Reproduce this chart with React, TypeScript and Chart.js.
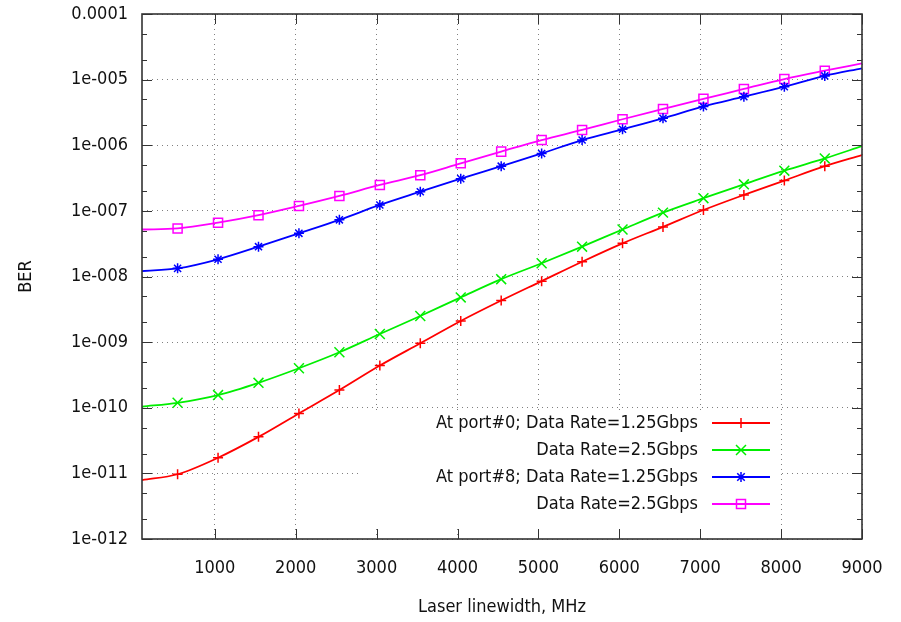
import React, { useEffect, useRef } from 'react';
import { Chart, registerables } from 'chart.js';

Chart.register(...registerables);

// Laser linewidth (MHz): curve ends at the axis limits, markers in between
const linewidthMHz = [100, 540, 1040, 1540, 2040, 2540, 3040, 3540, 4040, 4540, 5040, 5540, 6040, 6540, 7040, 7540, 8040, 8540, 9000];

// BER at port #0, 1.25 Gbps
const berPort0Rate125 = [7.9e-12, 9.7e-12, 1.73e-11, 3.6e-11, 8.2e-11, 1.86e-10, 4.4e-10, 9.6e-10, 2.1e-9, 4.3e-9, 8.5e-9, 1.68e-8, 3.2e-8, 5.7e-8, 1.03e-7, 1.75e-7, 2.9e-7, 4.8e-7, 7.1e-7];
// BER at port #0, 2.5 Gbps
const berPort0Rate25 = [1.04e-10, 1.19e-10, 1.56e-10, 2.4e-10, 4.0e-10, 7.0e-10, 1.33e-9, 2.5e-9, 4.8e-9, 9.1e-9, 1.59e-8, 2.85e-8, 5.2e-8, 9.4e-8, 1.56e-7, 2.54e-7, 4.1e-7, 6.3e-7, 9.7e-7];
// BER at port #8, 1.25 Gbps
const berPort8Rate125 = [1.21e-8, 1.33e-8, 1.83e-8, 2.85e-8, 4.55e-8, 7.3e-8, 1.23e-7, 1.96e-7, 3.1e-7, 4.8e-7, 7.5e-7, 1.2e-6, 1.75e-6, 2.57e-6, 3.9e-6, 5.5e-6, 7.8e-6, 1.14e-5, 1.49e-5];
// BER at port #8, 2.5 Gbps
const berPort8Rate25 = [5.2e-8, 5.4e-8, 6.6e-8, 8.6e-8, 1.19e-7, 1.69e-7, 2.48e-7, 3.5e-7, 5.3e-7, 8.0e-7, 1.2e-6, 1.71e-6, 2.49e-6, 3.57e-6, 5.1e-6, 7.2e-6, 1.02e-5, 1.37e-5, 1.77e-5];

const seriesLabels = [
  'At port#0; Data Rate=1.25Gbps',
  'Data Rate=2.5Gbps',
  'At port#8; Data Rate=1.25Gbps',
  'Data Rate=2.5Gbps',
];
const seriesColors = ['#ff0000', '#00ee00', '#0000ff', '#ff00ff'];
const seriesMarkers = ['plus', 'cross', 'star', 'square'];

const xTickValues = [1000, 2000, 3000, 4000, 5000, 6000, 7000, 8000, 9000];
const yDecadeExponents = [-12, -11, -10, -9, -8, -7, -6, -5, -4];
const yMinorMultipliers = [2, 5];

const FONT_FAMILY = '"DejaVu Sans Condensed", "Liberation Sans Narrow", "DejaVu Sans", sans-serif';
const FONT_SIZE = 18;
const TEXT_COLOR = '#111111';
const FRAME_COLOR = '#333333';

function yTickLabel(v: number): string {
  const e = Math.round(Math.log10(v));
  if (e === -4) return '0.0001';
  return '1e-' + String(-e).padStart(3, '0');
}

function drawMarker(ctx: CanvasRenderingContext2D, kind: string, x: number, y: number, r: number) {
  ctx.beginPath();
  if (kind === 'plus' || kind === 'star') {
    ctx.moveTo(x - r, y); ctx.lineTo(x + r, y);
    ctx.moveTo(x, y - r); ctx.lineTo(x, y + r);
  }
  if (kind === 'cross' || kind === 'star') {
    const d = kind === 'star' ? r * 0.75 : r;
    ctx.moveTo(x - d, y - d); ctx.lineTo(x + d, y + d);
    ctx.moveTo(x - d, y + d); ctx.lineTo(x + d, y - d);
  }
  if (kind === 'square') {
    ctx.rect(x - r, y - r, 2 * r, 2 * r);
  }
  ctx.stroke();
}

const markerSize: Record<string, number> = { plus: 5, cross: 5, star: 5, square: 4.5 };

// Border, inward tick marks and the opaque key box, gnuplot style
const framePlugin = {
  id: 'gnuplotFrame',
  afterDatasetsDraw(chart: any) {
    const { ctx, chartArea: a, scales } = chart;
    const xs = scales.x;
    const ys = scales.y;
    ctx.save();

    // key box hides the grid behind it
    const boxL = a.left + 218;
    const boxT = a.top + 397;
    const boxR = a.right - 83;
    const boxB = a.bottom - 13;
    ctx.fillStyle = '#ffffff';
    ctx.fillRect(boxL, boxT, boxR - boxL, boxB - boxT);

    ctx.font = `${FONT_SIZE}px ${FONT_FAMILY}`;
    ctx.textAlign = 'right';
    ctx.textBaseline = 'middle';
    const textRight = a.left + 556;
    const lineL = a.left + 570;
    const lineR = a.left + 628;
    const rowTop = a.top + 409;
    const rowStep = 27;
    seriesLabels.forEach((label, i) => {
      const ry = rowTop + i * rowStep;
      ctx.fillStyle = TEXT_COLOR;
      ctx.fillText(label, textRight, ry);
      ctx.strokeStyle = seriesColors[i];
      ctx.lineWidth = 1.8;
      ctx.beginPath();
      ctx.moveTo(lineL, ry);
      ctx.lineTo(lineR, ry);
      ctx.stroke();
      ctx.lineWidth = 1.5;
      drawMarker(ctx, seriesMarkers[i], (lineL + lineR) / 2, ry, markerSize[seriesMarkers[i]]);
    });

    // tick marks
    ctx.strokeStyle = FRAME_COLOR;
    ctx.lineWidth = 1;
    ctx.beginPath();
    xTickValues.forEach((v) => {
      const px = Math.round(xs.getPixelForValue(v)) + 0.5;
      ctx.moveTo(px, a.bottom); ctx.lineTo(px, a.bottom - 10);
      ctx.moveTo(px, a.top); ctx.lineTo(px, a.top + 10);
    });
    yDecadeExponents.forEach((e) => {
      const py = Math.round(ys.getPixelForValue(Math.pow(10, e))) + 0.5;
      ctx.moveTo(a.left, py); ctx.lineTo(a.left + 10, py);
      ctx.moveTo(a.right, py); ctx.lineTo(a.right - 10, py);
      if (e < -4) {
        yMinorMultipliers.forEach((m) => {
          const pm = Math.round(ys.getPixelForValue(m * Math.pow(10, e))) + 0.5;
          ctx.moveTo(a.left, pm); ctx.lineTo(a.left + 5, pm);
          ctx.moveTo(a.right, pm); ctx.lineTo(a.right - 5, pm);
        });
      }
    });
    ctx.stroke();

    // plot border
    ctx.lineWidth = 1.6;
    ctx.strokeRect(a.left, a.top, a.right - a.left, a.bottom - a.top);
    ctx.restore();
  },
};

const seriesValues = [berPort0Rate125, berPort0Rate25, berPort8Rate125, berPort8Rate25];
const chartPointStyles = ['cross', 'crossRot', 'star', 'rect'];
const chartPointRadii = [5, 7, 5, 6.4];

export default function App() {
  const canvasRef = useRef<HTMLCanvasElement | null>(null);

  useEffect(() => {
    const canvas = canvasRef.current;
    if (!canvas) return;
    const last = linewidthMHz.length - 1;
    const font = { family: FONT_FAMILY, size: FONT_SIZE };

    const chart = new Chart(canvas, {
      type: 'line',
      data: {
        datasets: seriesValues.map((vals, i) => ({
          label: seriesLabels[i],
          data: linewidthMHz.map((x, j) => ({ x, y: vals[j] })),
          borderColor: seriesColors[i],
          borderWidth: 1.8,
          backgroundColor: seriesColors[i],
          pointStyle: chartPointStyles[i],
          pointBorderColor: seriesColors[i],
          pointBackgroundColor: 'rgba(0,0,0,0)',
          pointBorderWidth: 1.5,
          pointRadius: (c: any) => (c.dataIndex === 0 || c.dataIndex === last ? 0 : chartPointRadii[i]),
          cubicInterpolationMode: 'monotone',
          fill: false,
        })),
      },
      options: {
        animation: false,
        responsive: false,
        devicePixelRatio: 1,
        layout: { padding: { top: 14, right: 39, left: 0, bottom: 0 } },
        plugins: { legend: { display: false }, tooltip: { enabled: false } },
        scales: {
          x: {
            type: 'linear',
            min: 100,
            max: 9000,
            afterBuildTicks: (s: any) => {
              s.ticks = xTickValues.map((v) => ({ value: v }));
            },
            afterFit: (s: any) => {
              s.height = 83;
              s.paddingLeft = 0;
              s.paddingRight = 0;
            },
            ticks: {
              autoSkip: false,
              maxRotation: 0,
              padding: 19,
              color: TEXT_COLOR,
              font,
              callback: (v: any) => String(v),
            },
            grid: { color: '#808080', lineWidth: 1, drawTicks: false },
            border: { display: false, dash: [1, 4] },
            title: {
              display: true,
              text: 'Laser linewidth, MHz',
              color: TEXT_COLOR,
              font,
              padding: { top: 0, bottom: 4 },
            },
          },
          y: {
            type: 'logarithmic',
            min: 1e-12,
            max: 1e-4,
            afterBuildTicks: (s: any) => {
              s.ticks = yDecadeExponents.map((e) => ({ value: Math.pow(10, e) }));
            },
            afterFit: (s: any) => {
              s.width = 142;
              s.paddingTop = 0;
              s.paddingBottom = 0;
            },
            ticks: {
              autoSkip: false,
              padding: 14,
              color: TEXT_COLOR,
              font,
              callback: (v: any) => yTickLabel(Number(v)),
            },
            grid: { color: '#808080', lineWidth: 1, drawTicks: false },
            border: { display: false, dash: [1, 4] },
            title: {
              display: true,
              text: 'BER',
              color: TEXT_COLOR,
              font,
              padding: { top: 16, bottom: 0 },
            },
          },
        },
      },
      plugins: [framePlugin],
    });

    return () => chart.destroy();
  }, []);

  return (
    <div style={{ position: 'absolute', left: 0, top: 0, width: 901, height: 622, background: '#ffffff' }}>
      <canvas ref={canvasRef} width={901} height={622} style={{ display: 'block' }} />
    </div>
  );
}
